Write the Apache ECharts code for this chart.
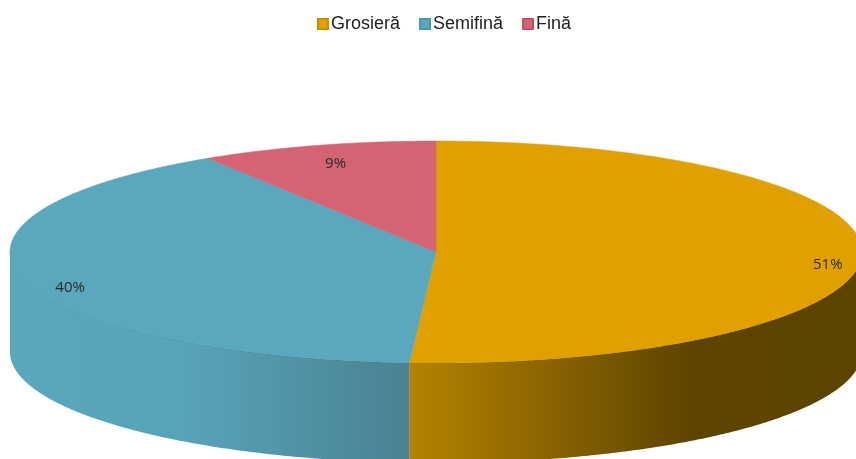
<!DOCTYPE html>
<html><head><meta charset="utf-8">
<script src="https://cdn.jsdelivr.net/npm/echarts@6/dist/echarts.min.js"></script>
<style>html,body{margin:0;padding:0;background:#fff}#c{width:856px;height:459px}</style>
</head><body><div id="c"></div>
<script>
// ---- data ----
const categories = ['Grosieră', 'Semifină', 'Fină'];
const values = [51, 40, 9];
const labelTexts = ['51%', '40%', '9%'];
// ---- styles ----
const topColors = ['#E0A000', '#5AA8BE', '#D46474'];
const legendBorders = ['#C89000', '#4A98AE', '#C05464'];
const sideStops = [
  [[0, '#B58300'], [0.62, '#5E4400'], [1, '#5C4300']],
  [[0, '#5AA8BE'], [0.45, '#57A3B9'], [1, '#4A8292']],
  [[0, '#A84A58'], [1, '#A84A58']]
];

const chart = echarts.init(document.getElementById('c'), null, {renderer: 'canvas'});

const G = {cx: 436, cy: 252, rx: 426, ry: 111, depth: 100, lcx: 443, lcy: 262, lrx: 385, lry: 102};

function pt(t, dy) {
  return [G.cx + G.rx * Math.sin(t), G.cy - G.ry * Math.cos(t) + (dy || 0)];
}

function makeRender(i) {
  return function (params, api) {
    const total = values.reduce((a, b) => a + b, 0);
    let before = 0;
    for (let k = 0; k < i; k++) before += values[k];
    const v = api.value(0);
    const a0 = before / total * Math.PI * 2;
    const a1 = (before + v) / total * Math.PI * 2;
    const step = Math.PI / 360;
    const children = [];
    const s0 = Math.max(a0, Math.PI / 2), s1 = Math.min(a1, Math.PI * 1.5);
    if (s0 < s1) {
      const pts = [];
      for (let t = s0; t < s1; t += step) pts.push(pt(t));
      pts.push(pt(s1));
      for (let t = s1; t > s0; t -= step) pts.push(pt(t, G.depth));
      pts.push(pt(s0, G.depth));
      children.push({
        type: 'polygon', shape: {points: pts},
        style: {
          fill: new echarts.graphic.LinearGradient(0, 0, 1, 0,
            sideStops[i].map(s => ({offset: s[0], color: s[1]}))),
          stroke: null
        }
      });
      const edge = [];
      for (let t = s0; t < s1; t += step) edge.push(pt(t));
      edge.push(pt(s1));
      children.push({type: 'polyline', shape: {points: edge},
        style: {stroke: 'rgba(0,0,0,0.25)', lineWidth: 1, fill: null}});
    }
    const tp = [[G.cx, G.cy]];
    for (let t = a0; t < a1; t += step) tp.push(pt(t));
    tp.push(pt(a1));
    children.push({type: 'polygon', shape: {points: tp},
      style: {fill: topColors[i], stroke: topColors[i], lineWidth: 0.5}});
    const m = (a0 + a1) / 2;
    children.push({
      type: 'text',
      x: G.lcx + G.lrx * Math.sin(m),
      y: G.lcy - G.lry * Math.cos(m),
      style: {
        text: labelTexts[i], fill: '#2a2a2a',
        font: '15px "Open Sans"',
        textAlign: 'center', textVerticalAlign: 'middle',
        align: 'center', verticalAlign: 'middle'
      }
    });
    return {type: 'group', children: children};
  };
}

const series = categories.map((name, i) => ({
  type: 'custom',
  name: name,
  coordinateSystem: 'none',
  data: [[values[i]]],
  itemStyle: {color: topColors[i], borderColor: legendBorders[i], borderWidth: 1},
  renderItem: makeRender(i),
  silent: true,
  animation: false
}));

chart.setOption({
  animation: false,
  color: topColors,
  legend: {
    top: 10,
    left: 312,
    icon: 'rect',
    itemWidth: 10,
    itemHeight: 10,
    itemGap: 19,
    data: categories,
    textStyle: {fontSize: 18, fontFamily: '"Liberation Sans", Arial, sans-serif', color: '#222', padding: [0, 0, 0, -2]}
  },
  series: series
});
</script>
</body></html>
